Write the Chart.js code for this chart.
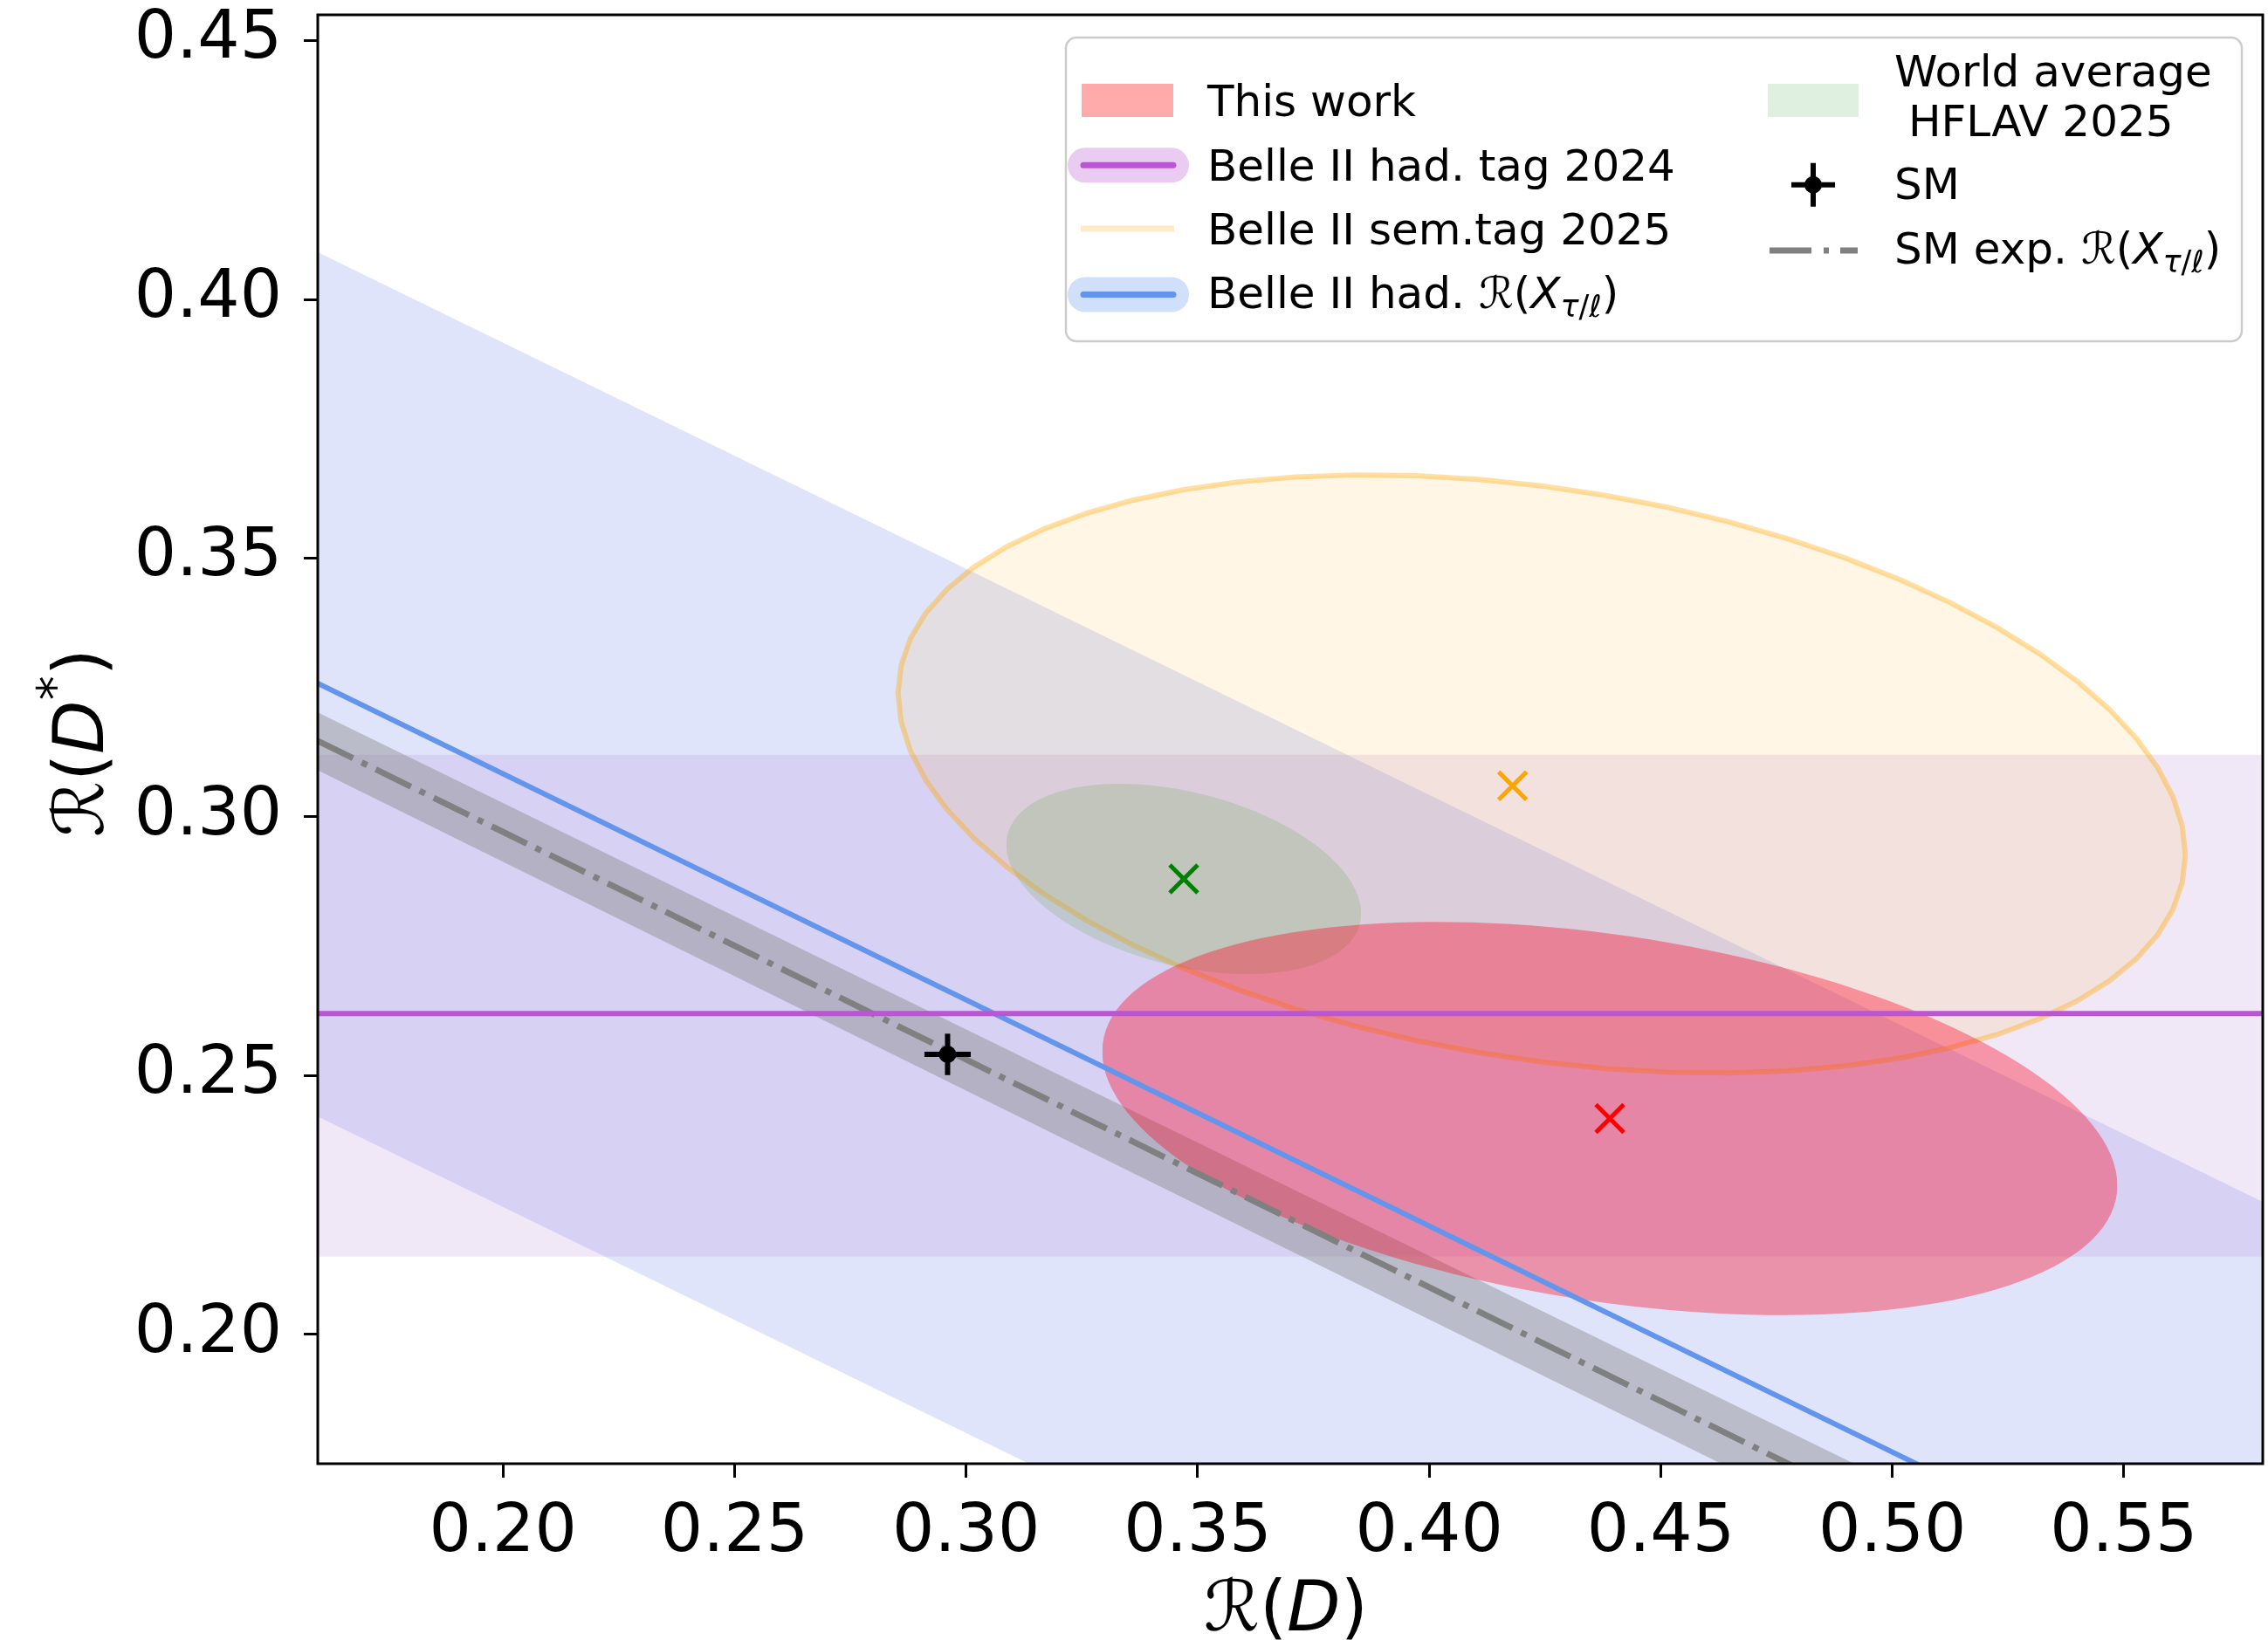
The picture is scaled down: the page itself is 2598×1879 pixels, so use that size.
<!DOCTYPE html>
<html>
<head>
<meta charset="utf-8">
<title>R(D) vs R(D*)</title>
<script src="https://cdn.jsdelivr.net/npm/chart.js@4/dist/chart.umd.min.js"></script>
<style>
  html, body { margin: 0; padding: 0; background: #ffffff; }
  #wrap { width: 2598px; height: 1879px; }
</style>
</head>
<body>
<div id="wrap"><canvas id="c" width="2598" height="1879"></canvas></div>
<script>
// ---- axes ----
const xRange = [0.16, 0.58];
const yRange = [0.175, 0.455];
const xTicks = [0.20, 0.25, 0.30, 0.35, 0.40, 0.45, 0.50, 0.55];
const yTicks = [0.20, 0.25, 0.30, 0.35, 0.40, 0.45];

// ---- straight constraints: R(D*) at R(D) = 0.16 and R(D) = 0.58 ----
const edgeRD = [0.16, 0.58];
const hadRXUpper   = [0.4091, 0.2256];
const hadRXCentral = [0.3258, 0.1423];
const hadRXLower   = [0.2421, 0.0586];
const smRXUpper    = [0.3202, 0.1364];
const smRXCentral  = [0.3147, 0.1299];
const smRXLower    = [0.3090, 0.1233];

// Belle II hadronic tag 2024: R(D*) central, lower, upper
const had2024 = [0.262, 0.215, 0.312];

// ---- best-fit points [R(D), R(D*)] ----
const thisWorkBest = [0.439, 0.2417];
const semTagBest   = [0.418, 0.306];
const hflavBest    = [0.347, 0.288];
const smBest       = [0.296, 0.2541];
const smErr        = [0.005, 0.004];

// ---- 68% contours: [centre R(D), centre R(D*), half-width, half-height, correlation] ----
const thisWorkContour = [0.439, 0.2417, 0.1096, 0.0380, -0.34];
const semTagContour   = [0.4243, 0.3083, 0.1390, 0.0578, -0.27];
const hflavContour    = [0.347, 0.288, 0.0383, 0.0184, -0.36];

// ---- colours ----
const C = {
  blueBand:   'rgba(100,120,230,0.20)',
  blueLine:   '#6495ed',
  purpleBand: 'rgba(160,100,200,0.15)',
  purpleLine: '#ba55d3',
  grayBand:   'rgba(128,128,128,0.40)',
  grayLine:   '#808080',
  orangeFill: 'rgba(255,165,0,0.10)',
  orangeEdge: 'rgba(255,165,0,0.36)',
  greenFill:  'rgba(120,170,100,0.25)',
  redFill:    'rgba(255,0,30,0.36)'
};

const FONT = '"DejaVu Sans", "Liberation Sans", sans-serif';

function across(vals) {
  return [{x: edgeRD[0], y: vals[0]}, {x: edgeRD[1], y: vals[1]}];
}
function flat(v) {
  return [{x: xRange[0], y: v}, {x: xRange[1], y: v}];
}
function contourPoint(c, t) {
  const [cx, cy, ax, ay, rho] = c;
  return {
    x: cx + ax * Math.cos(t),
    y: cy + ay * (rho * Math.cos(t) + Math.sqrt(1 - rho * rho) * Math.sin(t))
  };
}
function contourArc(c, t0, t1, n) {
  const pts = [];
  for (let i = 0; i <= n; i++) pts.push(contourPoint(c, t0 + (t1 - t0) * i / n));
  return pts;
}

const datasets = [];
const base = {pointRadius: 0, borderWidth: 0, tension: 0, fill: false, showLine: true};
function add(ds) { datasets.push(Object.assign({}, base, ds)); return datasets.length - 1; }

// filled region between two edges (edge datasets are consecutive)
function region(upperPts, lowerPts, color) {
  const i = datasets.length;
  add({data: upperPts, backgroundColor: color, fill: i + 1});
  add({data: lowerPts});
}
function contourRegion(c, color) {
  region(contourArc(c, Math.PI, 0, 80), contourArc(c, Math.PI, 2 * Math.PI, 80), color);
}

// bottom to top
region(across(hadRXUpper), across(hadRXLower), C.blueBand);
region(flat(had2024[2]), flat(had2024[1]), C.purpleBand);
region(across(smRXUpper), across(smRXLower), C.grayBand);
contourRegion(semTagContour, C.orangeFill);
add({data: contourArc(semTagContour, 0, 2 * Math.PI, 64), borderColor: C.orangeEdge, borderWidth: 6, borderJoinStyle: 'round'});
contourRegion(hflavContour, C.greenFill);
contourRegion(thisWorkContour, C.redFill);
add({data: across(hadRXCentral), borderColor: C.blueLine, borderWidth: 6});
add({data: across(smRXCentral), borderColor: C.grayLine, borderWidth: 7, borderDash: [45, 11, 7, 11]});
add({data: flat(had2024[0]), borderColor: C.purpleLine, borderWidth: 6});

function marker(pt, color) {
  add({data: [{x: pt[0], y: pt[1]}], showLine: false, pointStyle: 'crossRot', pointRadius: 22.6,
       pointBorderWidth: 5, pointBorderColor: color, pointBackgroundColor: 'rgba(0,0,0,0)'});
}
marker(semTagBest, '#ffa500');
marker(hflavBest, '#008000');
marker(thisWorkBest, '#ff0000');

add({data: [{x: smBest[0] - smErr[0], y: smBest[1]}, {x: smBest[0] + smErr[0], y: smBest[1]}], borderColor: '#000', borderWidth: 6});
add({data: [{x: smBest[0], y: smBest[1] - smErr[1]}, {x: smBest[0], y: smBest[1] + smErr[1]}], borderColor: '#000', borderWidth: 6});
add({data: [{x: smBest[0], y: smBest[1]}], showLine: false, pointStyle: 'circle', pointRadius: 10,
     pointBorderWidth: 0, pointBackgroundColor: '#000'});

datasets.forEach((d, i) => { d.order = datasets.length - i; });

// ---- text helpers ----
function richMeasure(ctx, parts, size) {
  let w = 0;
  for (const p of parts) {
    ctx.font = (p.italic ? 'italic ' : '') + (size * (p.scale || 1)) + 'px ' + FONT;
    w += ctx.measureText(p.t).width;
  }
  return w;
}
function richDraw(ctx, x, y, parts, size) {
  let cx = x;
  ctx.textAlign = 'left';
  ctx.textBaseline = 'alphabetic';
  for (const p of parts) {
    ctx.font = (p.italic ? 'italic ' : '') + (size * (p.scale || 1)) + 'px ' + FONT;
    ctx.fillText(p.t, cx, y + (p.dy || 0) * size);
    cx += ctx.measureText(p.t).width;
  }
}
const rxParts = [
  {t: 'ℛ'}, {t: '('}, {t: 'X', italic: true},
  {t: 'τ', italic: true, scale: 0.7, dy: 0.2}, {t: '/', scale: 0.7, dy: 0.2}, {t: 'ℓ', scale: 0.7, dy: 0.2},
  {t: ')'}
];
const xTitleParts = [{t: 'ℛ'}, {t: '('}, {t: 'D', italic: true}, {t: ')'}];
const yTitleParts = [{t: 'ℛ'}, {t: '('}, {t: 'D', italic: true}, {t: '*', scale: 0.7, dy: -0.45}, {t: ')'}];

const framePlugin = {
  id: 'frame',
  afterDatasetsDraw(chart) {
    const {ctx, chartArea: a} = chart;
    ctx.save();
    ctx.strokeStyle = '#000';
    ctx.lineWidth = 3;
    ctx.strokeRect(a.left, a.top, a.right - a.left, a.bottom - a.top);
    ctx.restore();
  }
};

const titlePlugin = {
  id: 'axisTitles',
  afterDraw(chart) {
    const {ctx, chartArea: a} = chart;
    const size = 80;
    ctx.save();
    ctx.fillStyle = '#000';
    const wx = richMeasure(ctx, xTitleParts, size);
    richDraw(ctx, (a.left + a.right) / 2 - wx / 2 - 5, 1868, xTitleParts, size);
    const wy = richMeasure(ctx, yTitleParts, size);
    ctx.translate(118, (a.top + a.bottom) / 2 + 4);
    ctx.rotate(-Math.PI / 2);
    richDraw(ctx, -wy / 2, 0, yTitleParts, size);
    ctx.restore();
  }
};

const legendPlugin = {
  id: 'customLegend',
  afterDraw(chart) {
    const {ctx} = chart;
    const L = 1221, T = 43, R = 2568, B = 391;
    const fs = 50;
    ctx.save();
    // box
    ctx.beginPath();
    ctx.roundRect(L, T, R - L, B - T, 12);
    ctx.fillStyle = 'rgba(255,255,255,0.8)';
    ctx.fill();
    ctx.lineWidth = 2.5;
    ctx.strokeStyle = '#cccccc';
    ctx.stroke();

    // column 1 handles
    ctx.fillStyle = 'rgba(255,0,0,0.33)';
    ctx.fillRect(L + 18, T + 53, 105, 38);

    function bandHandle(cy, bandColor, lineColor) {
      ctx.lineCap = 'round';
      ctx.strokeStyle = bandColor; ctx.lineWidth = 40;
      ctx.beginPath(); ctx.moveTo(L + 22, cy); ctx.lineTo(L + 121, cy); ctx.stroke();
      ctx.strokeStyle = lineColor; ctx.lineWidth = 7;
      ctx.beginPath(); ctx.moveTo(L + 20, cy); ctx.lineTo(L + 123, cy); ctx.stroke();
    }
    bandHandle(T + 146.3, 'rgba(186,85,211,0.3)', C.purpleLine);
    ctx.lineCap = 'butt';
    ctx.strokeStyle = 'rgba(255,165,0,0.22)'; ctx.lineWidth = 7;
    ctx.beginPath(); ctx.moveTo(L + 17, T + 219); ctx.lineTo(L + 124, T + 219); ctx.stroke();
    bandHandle(T + 294.5, 'rgba(100,149,237,0.3)', C.blueLine);

    // column 1 labels
    ctx.fillStyle = '#000';
    ctx.textAlign = 'left'; ctx.textBaseline = 'alphabetic';
    ctx.font = fs + 'px ' + FONT;
    ctx.fillText('This work', L + 162, T + 90);
    ctx.fillText('Belle II had. tag 2024', L + 162, T + 164);
    ctx.fillText('Belle II sem.tag 2025', L + 162, T + 236.5);
    const pre1 = 'Belle II had. ';
    ctx.fillText(pre1, L + 162, T + 310);
    const w1 = ctx.measureText(pre1).width;
    richDraw(ctx, L + 162 + w1, T + 310, rxParts, fs);

    // column 2 handles
    ctx.fillStyle = 'rgba(0,128,0,0.12)';
    ctx.fillRect(L + 804, T + 53, 104, 38);
    // SM marker
    const sx = L + 856, sy = T + 168.7;
    ctx.strokeStyle = '#000'; ctx.lineWidth = 6; ctx.lineCap = 'butt';
    ctx.beginPath();
    ctx.moveTo(sx - 25, sy); ctx.lineTo(sx + 25, sy);
    ctx.moveTo(sx, sy - 25); ctx.lineTo(sx, sy + 25);
    ctx.stroke();
    ctx.fillStyle = '#000';
    ctx.beginPath(); ctx.arc(sx, sy, 10, 0, 2 * Math.PI); ctx.fill();
    // dash-dot
    ctx.strokeStyle = C.grayLine; ctx.lineWidth = 7;
    ctx.setLineDash([48, 14, 6, 13]);
    ctx.beginPath(); ctx.moveTo(L + 806, T + 244); ctx.lineTo(L + 907, T + 244); ctx.stroke();
    ctx.setLineDash([]);

    // column 2 labels
    ctx.fillStyle = '#000';
    ctx.font = fs + 'px ' + FONT;
    ctx.fillText('World average', L + 949, T + 56.3);
    ctx.fillText(' HFLAV 2025', L + 949, T + 112.7);
    ctx.fillText('SM', L + 949, T + 185.3);
    const pre2 = 'SM exp. ';
    ctx.fillText(pre2, L + 949, T + 258.7);
    const w2 = ctx.measureText(pre2).width;
    richDraw(ctx, L + 949 + w2, T + 258.7, rxParts, fs);
    ctx.restore();
  }
};

const tickFont = {family: FONT, size: 76};
function noPadding(s) {
  s.paddingTop = 0; s.paddingBottom = 0; s.paddingLeft = 0; s.paddingRight = 0;
}

new Chart(document.getElementById('c').getContext('2d'), {
  type: 'line',
  data: {datasets},
  options: {
    responsive: false,
    animation: false,
    devicePixelRatio: 1,
    events: [],
    layout: {autoPadding: false, padding: {left: 0, right: 6, top: 17, bottom: 0}},
    plugins: {legend: {display: false}, tooltip: {enabled: false}, title: {display: false}},
    scales: {
      x: {
        type: 'linear', min: xRange[0], max: xRange[1],
        afterBuildTicks: s => { s.ticks = xTicks.map(v => ({value: v})); },
        afterFit: s => { s.height = 202; noPadding(s); },
        grid: {display: true, drawOnChartArea: false, drawTicks: true, tickLength: 16, tickWidth: 3, tickColor: '#000'},
        border: {display: false},
        ticks: {font: tickFont, color: '#000', padding: 19, maxRotation: 0, autoSkip: false,
                callback: v => Number(v).toFixed(2)}
      },
      y: {
        type: 'linear', min: yRange[0], max: yRange[1],
        afterBuildTicks: s => { s.ticks = yTicks.map(v => ({value: v})); },
        afterFit: s => { s.width = 364; noPadding(s); },
        grid: {display: true, drawOnChartArea: false, drawTicks: true, tickLength: 16, tickWidth: 3, tickColor: '#000'},
        border: {display: false},
        ticks: {font: tickFont, color: '#000', padding: 25, autoSkip: false,
                callback: v => Number(v).toFixed(2)}
      }
    }
  },
  plugins: [framePlugin, titlePlugin, legendPlugin]
});
</script>
</body>
</html>
